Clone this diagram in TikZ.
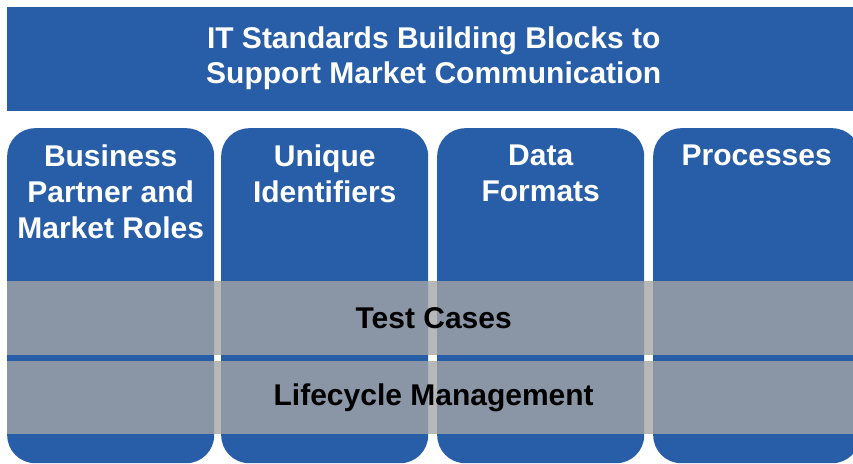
\documentclass[tikz,border=0pt]{standalone}
\usepackage{fontspec}
\setmainfont{Liberation Sans}
\usepackage{tikz}
\usetikzlibrary{positioning}
\definecolor{cBlue}{HTML}{285EA8}
\definecolor{cBand}{HTML}{A5A5A5}
\newcommand{\hdfont}{\fontsize{30}{36}\selectfont\bfseries}
\tikzset{
  banner/.style={fill=cBlue, inner sep=0pt, anchor=north west,
                 minimum width=853pt, minimum height=104pt},
  colblk/.style={fill=cBlue, rounded corners=28pt, inner sep=0pt, anchor=north west,
                 minimum width=207pt, minimum height=335pt},
  band/.style={fill=cBand, fill opacity=0.79, text opacity=1, inner sep=0pt,
               anchor=north west, minimum width=853pt, font=\hdfont, text=black},
  hd/.style={font=\hdfont, text=white, align=center, inner sep=0pt}
}
\begin{document}
\begin{tikzpicture}[x=1pt, y=-1pt]
\useasboundingbox (0,0) rectangle (853,463);
% banner on top
\node[banner] (top) at (7,7) {};
\node[hd, font=\fontsize{30}{35}\selectfont\bfseries] (title) at ([yshift=1pt]top.center)
  {IT Standards Building Blocks to\\Support Market Communication};
% the four building blocks
\node[colblk] (cBP) at (7,128) {};
\node[colblk] (cUI) at (221,128) {};
\node[colblk] (cDF) at (437,128) {};
\node[colblk] (cPR) at (653,128) {};
\node[hd, anchor=north] (tBP) at ([yshift=-17pt]cBP.north) {Business\\Partner and\\Market Roles};
\node[hd, anchor=north] (tUI) at ([yshift=-17pt]cUI.north) {Unique\\Identifiers};
\node[hd, anchor=north] (tDF) at ([yshift=-17pt]cDF.north) {Data\\Formats};
\node[hd, anchor=north] (tPR) at ([yshift=-17pt]cPR.north) {Processes};
% cross-cutting bands
\node[band, minimum height=74pt] (tc) at (7,281) {Test Cases};
\node[band, minimum height=73pt] (lm) at (7,361) {Lifecycle Management};
\end{tikzpicture}
\end{document}
